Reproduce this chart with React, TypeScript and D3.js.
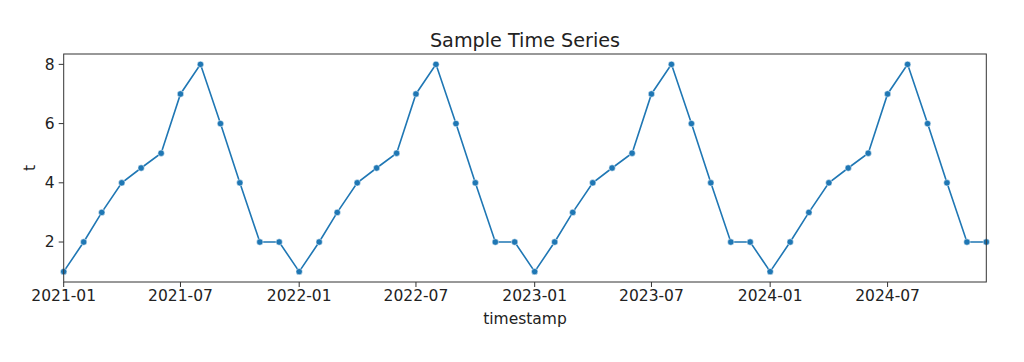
import React from "react";
import * as d3 from "d3";

const months: string[] = [];
for (let y = 2021; y <= 2024; y++) for (let m = 1; m <= 12; m++) months.push(`${y}-${String(m).padStart(2, "0")}`);
const yearPattern = [1, 2, 3, 4, 4.5, 5, 7, 8, 6, 4, 2, 2];
const values: number[] = [...yearPattern, ...yearPattern, ...yearPattern, ...yearPattern];
const xTickLabels = ["2021-01", "2021-07", "2022-01", "2022-07", "2023-01", "2023-07", "2024-01", "2024-07"];
const yTicks = [2, 4, 6, 8];

const W = 1024, H = 362;
const L = 63.7, R = 986.3, T = 54, B = 282;
const FONT = "DejaVu Sans, sans-serif";

export default function App() {
  const parse = d3.timeParse("%Y-%m");
  const dates = months.map((m) => parse(m)!);
  const x = d3.scaleTime().domain([dates[0], dates[dates.length - 1]]).range([L, R]);
  const y = d3.scaleLinear().domain([0.65, 8.35]).range([B, T]);
  const line = d3.line<number>().x((_, i) => x(dates[i])).y((v) => y(v));
  const col = "#1f77b4";
  return (
    <svg width={W} height={H} style={{ position: "absolute", left: 0, top: 0 }} fontFamily={FONT}>
      <rect width={W} height={H} fill="#fff" />
      <text x={(L + R) / 2} y={47} textAnchor="middle" fontSize={19.2} fill="#222">Sample Time Series</text>
      <path d={line(values) || ""} fill="none" stroke={col} strokeWidth={1.6} />
      {values.map((v, i) => (
        <circle key={i} cx={x(dates[i])} cy={y(v)} r={3.2} fill={col} stroke="#fff" strokeWidth={0.5} />
      ))}
      <rect x={L} y={T} width={R - L} height={B - T} fill="none" stroke="#333" strokeWidth={1} />
      {xTickLabels.map((t) => {
        const px = x(parse(t)!);
        return (
          <g key={t}>
            <line x1={px} x2={px} y1={B} y2={B + 5} stroke="#333" />
            <text x={px} y={301} textAnchor="middle" fontSize={15.5} fill="#222">{t}</text>
          </g>
        );
      })}
      {yTicks.map((t) => (
        <g key={t}>
          <line x1={L - 5} x2={L} y1={y(t)} y2={y(t)} stroke="#333" />
          <text x={L - 9} y={y(t)} dy="0.35em" textAnchor="end" fontSize={15.5} fill="#222">{t}</text>
        </g>
      ))}
      <text x={(L + R) / 2} y={324} textAnchor="middle" fontSize={15.5} fill="#222">timestamp</text>
      <text transform={`translate(35,${(T + B) / 2}) rotate(-90)`} textAnchor="middle" fontSize={15.5} fill="#222">t</text>
    </svg>
  );
}
